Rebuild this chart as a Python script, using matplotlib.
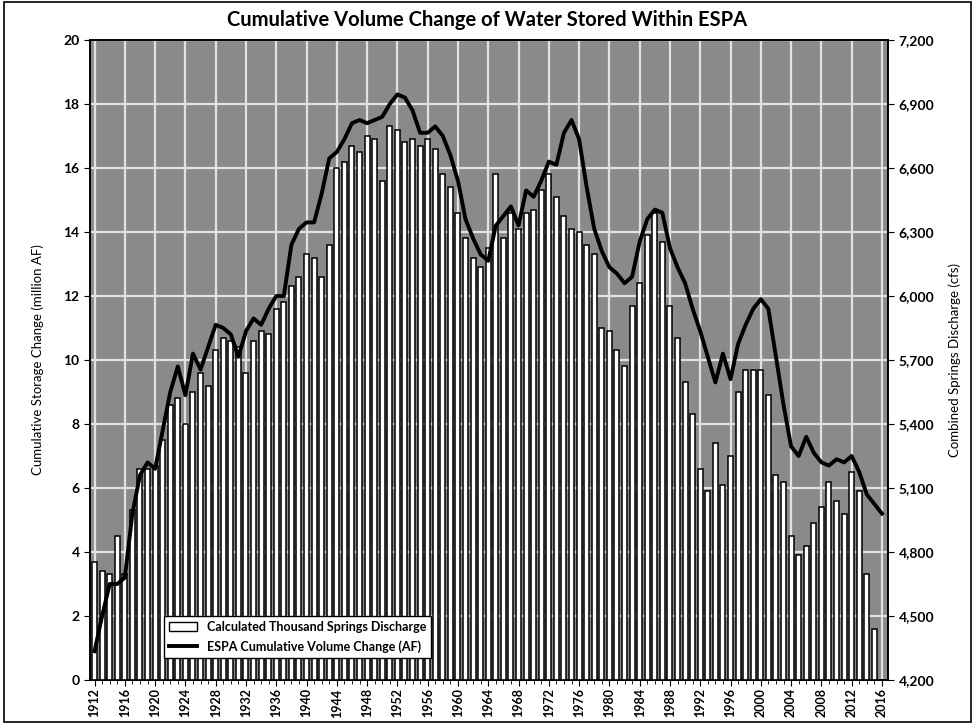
import matplotlib
matplotlib.use("Agg")
import matplotlib.pyplot as plt
from matplotlib.patches import Rectangle
from matplotlib.lines import Line2D
from matplotlib.ticker import FuncFormatter, MultipleLocator

plt.rcParams['font.family'] = ['Lato', 'DejaVu Sans']

# ---- data ----
bar_years = list(range(1912, 2016))
discharge_cfs = [
    4755, 4710, 4695, 4875, 4695, 4995, 5190, 5190, 5205, 5325,   # 1912-1921
    5490, 5520, 5400, 5550, 5640, 5580, 5745, 5805, 5790, 5760,   # 1922-1931
    5640, 5790, 5835, 5820, 5940, 5970, 6045, 6090, 6195, 6180,   # 1932-1941
    6090, 6240, 6600, 6630, 6705, 6675, 6750, 6735, 6540, 6795,   # 1942-1951
    6780, 6720, 6735, 6705, 6735, 6690, 6570, 6510, 6390, 6270,   # 1952-1961
    6180, 6135, 6225, 6570, 6270, 6390, 6315, 6390, 6405, 6495,   # 1962-1971
    6570, 6465, 6375, 6315, 6300, 6240, 6195, 5850, 5835, 5745,   # 1972-1981
    5670, 5955, 6060, 6285, 6390, 6255, 5955, 5805, 5595, 5445,   # 1982-1991
    5190, 5085, 5310, 5115, 5250, 5550, 5655, 5655, 5655, 5535,   # 1992-2001
    5160, 5130, 4875, 4785, 4830, 4935, 5010, 5130, 5040, 4980,   # 2002-2011
    5175, 5085, 4695, 4440,                                       # 2012-2015
]

line_years = list(range(1912, 2017))
cum_change_maf = [
    0.9, 2.0, 3.0, 3.0, 3.2, 5.2, 6.4, 6.8, 6.6, 7.8,             # 1912-1921
    9.0, 9.8, 8.9, 10.2, 9.7, 10.4, 11.1, 11.0, 10.8, 10.1,       # 1922-1931
    10.9, 11.3, 11.1, 11.6, 12.0, 12.0, 13.6, 14.1, 14.3, 14.3,   # 1932-1941
    15.2, 16.3, 16.5, 16.9, 17.4, 17.5, 17.4, 17.5, 17.6, 18.0,   # 1942-1951
    18.3, 18.2, 17.8, 17.1, 17.1, 17.3, 17.0, 16.4, 15.6, 14.4,   # 1952-1961
    13.8, 13.3, 13.1, 14.2, 14.5, 14.8, 14.2, 15.3, 15.1, 15.6,   # 1962-1971
    16.2, 16.1, 17.1, 17.5, 16.9, 15.4, 14.1, 13.4, 12.9, 12.7,   # 1972-1981
    12.4, 12.6, 13.7, 14.4, 14.7, 14.6, 13.5, 12.9, 12.4, 11.6,   # 1982-1991
    10.9, 10.1, 9.3, 10.2, 9.4, 10.5, 11.1, 11.6, 11.9, 11.6,     # 1992-2001
    10.1, 8.6, 7.3, 7.0, 7.6, 7.1, 6.8, 6.7, 6.9, 6.8,            # 2002-2011
    7.0, 6.5, 5.8, 5.5, 5.2,                                      # 2012-2016
]

tick_years = list(range(1912, 2017, 4))
left_ticks = list(range(0, 21, 2))
right_ticks = list(range(4200, 7201, 300))

title = "Cumulative Volume Change of Water Stored Within ESPA"
left_label = "Cumulative Storage Change (million AF)"
right_label = "Combined Springs Discharge (cfs)"
bar_name = "Calculated Thousand Springs Discharge"
line_name = "ESPA Cumulative Volume Change (AF)"

# ---- figure ----
W, H = 975, 724
fig = plt.figure(figsize=(W / 100, H / 100), dpi=100)
fig.patch.set_facecolor('white')

left, right, top, bottom = 90, 888, 40, 680
ax2 = fig.add_axes([left / W, 1 - bottom / H, (right - left) / W, (bottom - top) / H])
ax = ax2.twinx()

# bars on right scale (ax2 drawn below), line on left scale (ax on top)
ax2.set_facecolor('#8a8a8a')
ax2.bar(bar_years, discharge_cfs, width=0.66, color='white', edgecolor='black',
        linewidth=1.1, zorder=3)
ax2.set_ylim(4200, 7200)
ax2.set_xlim(1911.4, 2016.8)
ax2.set_axisbelow(True)
ax2.grid(True, which='major', color='#e2e2e2', linewidth=1.6)

ax.plot(line_years, cum_change_maf, color='black', linewidth=2.8, zorder=5)
ax.set_ylim(0, 20)

# ax (twinx) holds left-scale data, but put its ticks on the left side
ax.yaxis.tick_left()
ax.yaxis.set_label_position('left')
ax2.yaxis.tick_right()
ax2.yaxis.set_label_position('right')

ax.set_yticks(left_ticks)
ax2.set_yticks(right_ticks)
ax2.yaxis.set_major_formatter(FuncFormatter(lambda v, p: f"{int(v):,}"))
ax2.set_xticks(tick_years)
ax2.set_xticklabels([str(y) for y in tick_years], rotation=90, fontsize=9,
                    fontweight='bold')
ax2.xaxis.set_minor_locator(MultipleLocator(1))
ax2.tick_params(axis='x', which='major', length=4, pad=2)
ax2.tick_params(axis='x', which='minor', length=3)
ax.tick_params(axis='y', labelsize=10, length=4)
ax2.tick_params(axis='y', labelsize=10, length=4)
for t in ax.get_yticklabels() + ax2.get_yticklabels():
    t.set_fontweight('bold')

for a in (ax, ax2):
    for s in a.spines.values():
        s.set_color('black')
        s.set_linewidth(1.2)

ax.set_ylabel(left_label, fontsize=9.5, labelpad=14)
ax2.set_ylabel(right_label, fontsize=9.5, labelpad=10)

fig.text(0.5, 1 - 20 / H, title, ha='center', va='center', fontsize=14.5,
         fontweight='bold')

handles = [
    Rectangle((0, 0), 1, 1, facecolor='white', edgecolor='black', linewidth=1.0),
    Line2D([0], [0], color='black', linewidth=2.8),
]
leg = ax.legend(handles, [bar_name, line_name], loc='lower left',
                bbox_to_anchor=(0.085, 0.025), fontsize=9, frameon=True,
                fancybox=False, framealpha=1, edgecolor='black',
                handlelength=2.2, borderpad=0.4, labelspacing=0.6)
leg.get_frame().set_linewidth(1.0)
for t in leg.get_texts():
    t.set_fontweight('bold')

# outer chart border
fig.patches.append(Rectangle((4 / W, 2 / H), 1 - 8 / W, 1 - 4 / H,
                             transform=fig.transFigure, fill=False,
                             edgecolor='black', linewidth=1.2))

fig.savefig('out.png', dpi=100)
